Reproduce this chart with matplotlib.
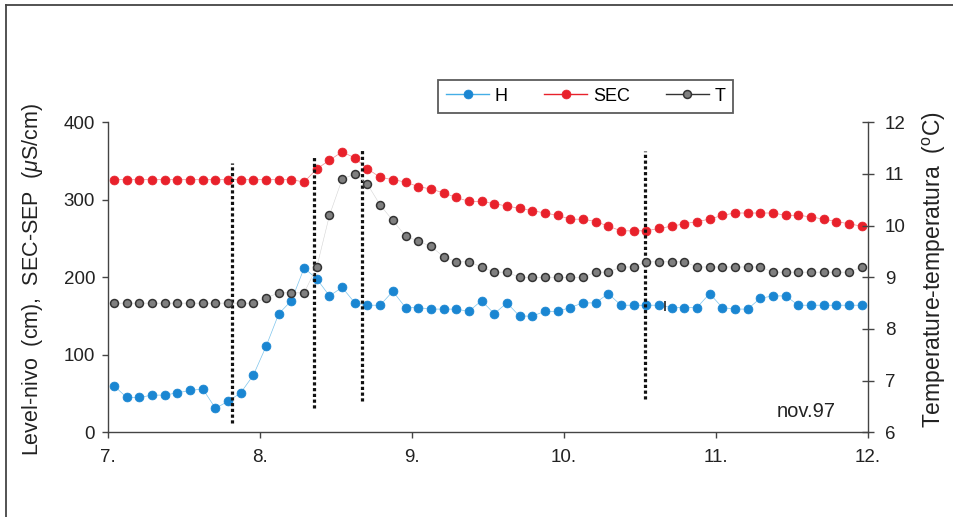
import numpy as np
import matplotlib
matplotlib.use('Agg')
import matplotlib.pyplot as plt
from matplotlib.lines import Line2D

plt.rcParams['font.family'] = ['Liberation Sans', 'DejaVu Sans']
plt.rcParams['mathtext.fontset'] = 'custom'
plt.rcParams['mathtext.rm'] = 'Liberation Sans'
plt.rcParams['mathtext.it'] = 'Liberation Sans:italic'

# data (one reading every 2 hours, 7-12 Nov 1997)
t = 7 + (np.arange(60) + 0.5) / 12
H = [60, 45, 45, 48, 48, 51, 54, 56, 31, 40,
     51, 74, 111, 153, 170, 212, 198, 176, 187, 167,
     164, 164, 182, 161, 161, 159, 159, 159, 156, 170,
     153, 167, 150, 150, 156, 156, 161, 167, 167, 179,
     164, 164, 164, 164, 161, 161, 161, 179, 161, 159,
     159, 173, 176, 176, 164, 164, 164, 164, 164, 164]
SEC = [326, 326, 326, 326, 326, 326, 326, 326, 326, 326,
       326, 326, 326, 326, 326, 323, 340, 351, 362, 354,
       340, 329, 326, 323, 317, 314, 309, 303, 298, 298,
       295, 292, 289, 286, 283, 280, 275, 275, 272, 266,
       260, 260, 260, 263, 266, 269, 272, 275, 280, 283,
       283, 283, 283, 280, 280, 278, 275, 272, 269, 266]
T = [8.5, 8.5, 8.5, 8.5, 8.5, 8.5, 8.5, 8.5, 8.5, 8.5,
     8.5, 8.5, 8.6, 8.7, 8.7, 8.7, 9.2, 10.2, 10.9, 11.0,
     10.8, 10.4, 10.1, 9.8, 9.7, 9.6, 9.4, 9.3, 9.3, 9.2,
     9.1, 9.1, 9.0, 9.0, 9.0, 9.0, 9.0, 9.0, 9.1, 9.1,
     9.2, 9.2, 9.3, 9.3, 9.3, 9.3, 9.2, 9.2, 9.2, 9.2,
     9.2, 9.2, 9.1, 9.1, 9.1, 9.1, 9.1, 9.1, 9.1, 9.2]

# dotted event markers (x, bottom, top in left axis units)
event_x = [7.815, 8.358, 8.669, 10.535]
event_lo = [12, 31, 40, 43]
event_hi = [348, 358, 366, 363]
mark_x = [10.668]
mark_lo = [156]
mark_hi = [169]

xticks = [7, 8, 9, 10, 11, 12]
xtick_labels = ['7.', '8.', '9.', '10.', '11.', '12.']

fig = plt.figure(figsize=(9.54, 5.17), dpi=100)
ax = fig.add_axes([0.1129, 0.1638, 0.797, 0.5996])
ax2 = ax.twinx()

blue, red, grey = '#1a86d2', '#e8212b', '#808080'
l1, = ax.plot(t, H, color='#7cc4ec', lw=0.5, marker='o', ms=6.4,
              mfc=blue, mec=blue, mew=0.5, label='H')
l2, = ax.plot(t, SEC, color='#f08a8f', lw=0.5, marker='o', ms=6.4,
              mfc=red, mec=red, mew=0.5, label='SEC')
l3, = ax2.plot(t, T, color='#d4d4d4', lw=0.4, marker='o', ms=5.7,
               mfc=grey, mec='#333333', mew=1.1, label='T')

for x, lo, hi in zip(event_x, event_lo, event_hi):
    ax.vlines(x, lo, hi, colors='#111111', lw=2.3, linestyles=(0, (1, 0.8)), zorder=5)
ax.vlines(mark_x, mark_lo, mark_hi, colors='#222222', lw=1.2, zorder=5)

ax.set_xlim(7, 12)
ax.set_ylim(0, 400)
ax2.set_ylim(6, 12)
ax.set_xticks(xticks)
ax.set_xticklabels(xtick_labels)
ax.set_yticks([0, 100, 200, 300, 400])
ax2.set_yticks([6, 7, 8, 9, 10, 11, 12])

for a in (ax, ax2):
    a.spines['top'].set_visible(False)
    for s in a.spines.values():
        s.set_color('#444444')
        s.set_linewidth(1.0)
ax.spines['right'].set_visible(False)
ax2.spines['left'].set_visible(False)
ax2.spines['bottom'].set_visible(False)

ax.tick_params(axis='both', labelsize=13.5, length=4, width=1, color='#444444', pad=5,
               labelcolor='#222222')
ax.tick_params(axis='x', pad=8)
ax2.tick_params(axis='y', labelsize=13.5, direction='inout', length=8, width=1,
                color='#444444', pad=8, labelcolor='#222222')

ax.set_ylabel(r'Level-nivo  (cm),  SEC-SEP  ($\mu$S/cm)', fontsize=15.5, color='#222222')
ax.yaxis.set_label_coords(-0.083, 0.493)
ax2.set_ylabel(r'Temperature-temperatura  ($^{\rm o}$C)', fontsize=16.5, color='#222222')
ax2.yaxis.set_label_coords(1.069, 0.5235)

ax.text(11.785, 20, 'nov.97', fontsize=14.5, ha='right', va='baseline', color='#222222')

leg = fig.legend([l1, l2, l3], ['H', 'SEC', 'T'], loc='center', ncol=3,
                 bbox_to_anchor=(0.614, 0.814), fontsize=13, frameon=True, fancybox=False,
                 handlelength=2.4, handletextpad=0.3, columnspacing=2.0, borderpad=0.45)
leg.get_frame().set_edgecolor('#333333')
leg.get_frame().set_linewidth(1.3)
legend_line_colors = ['#45aee6', red, '#333333']
for h, c in zip(leg.legend_handles, legend_line_colors):
    h.set_linewidth(1.0)
    h.set_color(c)
leg.legend_handles[0].set_markerfacecolor(blue)
leg.legend_handles[0].set_markeredgecolor(blue)
leg.legend_handles[2].set_markerfacecolor(grey)

# frame around the figure (cropped on the right and bottom)
fig.add_artist(Line2D([6 / 954, 6 / 954], [0, 1 - 5 / 517], color='#444444', lw=1.3))
fig.add_artist(Line2D([6 / 954, 1], [1 - 5 / 517, 1 - 5 / 517], color='#444444', lw=1.3))

fig.savefig('out.png', dpi=100)
